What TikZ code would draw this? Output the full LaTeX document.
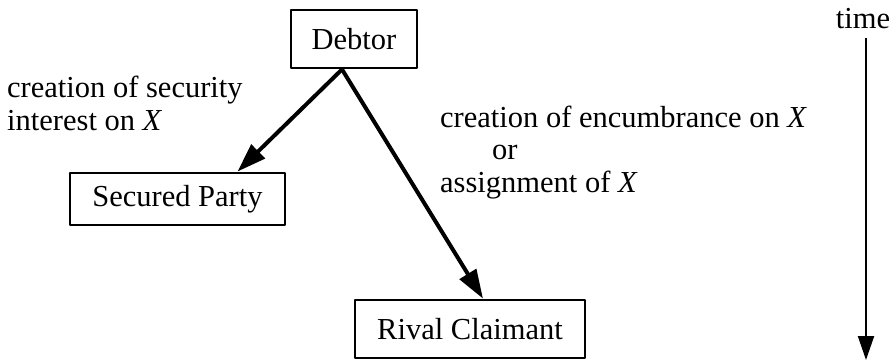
\documentclass[tikz,border=0pt]{standalone}
\usepackage{fontspec}
\setmainfont{Liberation Serif}
\usetikzlibrary{arrows.meta}
\begin{document}
\begin{tikzpicture}[x=1pt,y=-1pt,>={Triangle[length=29pt,width=19pt]}, font=\fontsize{30.5}{32.5}\selectfont, line join=round,
	box/.style={draw, line width=2.8pt, inner sep=0pt},
	link/.style={->, line width=4pt},
	lbl/.style={anchor=base west, align=left, inner sep=0pt}]
	\useasboundingbox (0,0) rectangle (894,360);
	\node[box, minimum width=126pt, minimum height=58pt] (debtor) at (354,39) {Debtor};
	\node[box, minimum width=215pt, minimum height=52pt] (secured) at (177.5,199) {Secured Party};
	\node[box, minimum width=230pt, minimum height=58pt] (rival) at (470,329) {Rival Claimant};
	\coordinate (root) at ([xshift=-12pt]debtor.south);
	\draw[link] (root)--([xshift=60pt]secured.north);
	\draw[link] (root)--([xshift=13pt]rival.north);
	% base of a multi-line node = last line
	\node[lbl] (secnote) at (7,130) {creation of security\\interest on \textit{X}};
	\node[lbl] (rivnote) at (440,192) {creation of encumbrance on \textit{X}\\\hspace*{52pt}or\\assignment of \textit{X}};
	% time axis
	\node[anchor=base, inner sep=0pt] (time) at (863,28) {time};
	\coordinate (t0) at (866,38); \coordinate (t1) at (866,360);
	\draw[->, >={Triangle[length=24pt,width=16pt]}, line width=2pt] (t0)--(t1);
\end{tikzpicture}
\end{document}
